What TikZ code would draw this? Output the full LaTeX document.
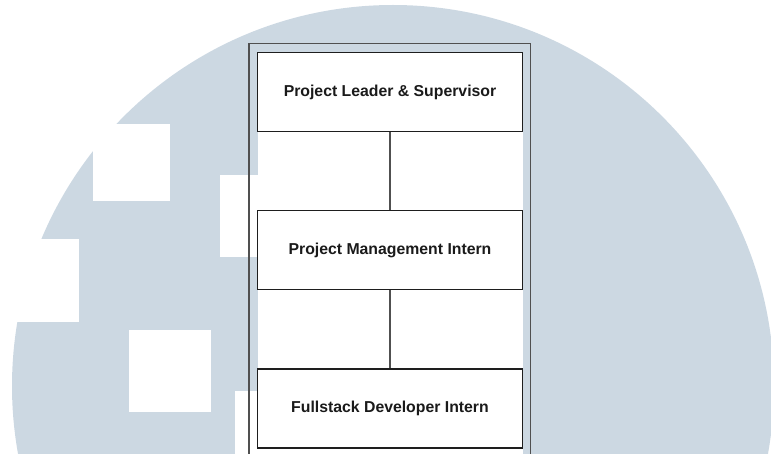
\documentclass[tikz,border=0pt]{standalone}
\usepackage{fontspec}
\setmainfont{Liberation Sans}
\definecolor{wmblue}{RGB}{204,216,226}
\definecolor{poolline}{RGB}{80,80,80}
\definecolor{boxline}{RGB}{30,30,30}
\definecolor{txt}{RGB}{26,26,26}
\tikzset{
  rolebox/.style={draw=boxline, line width=1.3pt, fill=white, rectangle,
    minimum width=265pt, minimum height=79pt, inner sep=0pt,
    text=txt, font=\fontsize{15.8}{18}\selectfont\bfseries},
  pool/.style={draw=poolline, line width=1.4pt, rectangle, inner sep=0pt,
    minimum width=281.5pt, minimum height=413pt},
  link/.style={draw=poolline, line width=1.4pt},
  hole/.style={fill=white, draw=none}
}
\begin{document}
\begin{tikzpicture}[x=1pt,y=-1pt]
\useasboundingbox (0,0) rectangle (771,454);
\clip (0,0) rectangle (771,454);
% watermark
\fill[wmblue] (393,386) circle[radius=381];
\fill[hole] (93,124) rectangle (170,201);
\fill[hole] (220,175) rectangle (258,257.5);
\fill[hole] (0,239) rectangle (79,322);
\fill[hole] (129,330) rectangle (211,412);
\fill[hole] (235,390.5) rectangle (258,460);
% pool
\node[pool] (pool) at (389.75,250) {};
\fill[hole] (257.5,52.5) rectangle (522.5,460);
% roles
\node[rolebox] (lead) at (390,92) {Project Leader \& Supervisor};
\node[rolebox] (pm) at (390,250.25) {Project Management Intern};
\node[rolebox] (dev) at (390,408.5) {Fullstack Developer Intern};
\draw[link] (lead) -- (pm);
\draw[link] (pm) -- (dev);
\end{tikzpicture}
\end{document}
